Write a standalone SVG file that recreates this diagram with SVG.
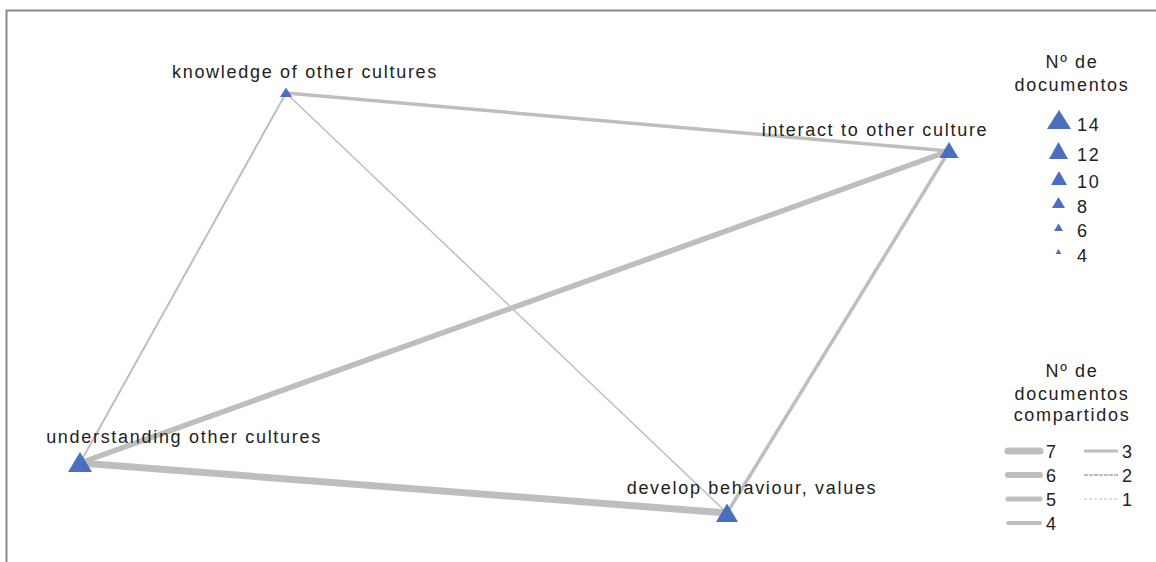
<svg xmlns="http://www.w3.org/2000/svg" width="1156" height="562" viewBox="0 0 1156 562">
<style>
text{font-family:"Liberation Sans",Arial,sans-serif;font-size:18px;letter-spacing:1.7px;fill:#222}
.e{stroke:#bebebe;fill:none}
.l{stroke:#bebebe;fill:none;stroke-linecap:round}
.t{fill:#4a6fbf}
.m{text-anchor:middle}
</style>
<rect x="0" y="0" width="1156" height="562" fill="#fff"/>
<polyline points="6.5,562 6.5,10.5 1156,10.5" fill="none" stroke="#8a8a8a" stroke-width="2"/>
<g id="connectors">
<line class="e" x1="80" y1="463" x2="727" y2="513" stroke-width="7"/>
<line class="e" x1="80" y1="463" x2="949" y2="151" stroke-width="5.5"/>
<line class="e" x1="286" y1="93" x2="949" y2="151" stroke-width="3.5"/>
<line class="e" x1="949" y1="151" x2="727" y2="513" stroke-width="3.5"/>
<line class="e" x1="286" y1="93" x2="80" y2="463" stroke-width="2"/>
<line class="e" x1="286" y1="93" x2="727" y2="513" stroke-width="1.5"/>
</g>
<g id="node-knowledge">
<polygon class="t" points="286,87.5 280,97 292,97"/>
<text class="m" x="305" y="78">knowledge of other cultures</text>
</g>
<g id="node-interact">
<polygon class="t" points="949,142 939.5,158 958.5,158"/>
<text class="m" x="875" y="136">interact to other culture</text>
</g>
<g id="node-understanding">
<polygon class="t" points="80,452 68,472 92,472"/>
<text class="m" x="184" y="443">understanding other cultures</text>
</g>
<g id="node-develop">
<polygon class="t" points="727,503.5 716,522 738,522"/>
<text class="m" x="752" y="494">develop behaviour, values</text>
</g>
<g id="legend-nodes">
<text class="m" x="1072" y="68">Nº de</text>
<text class="m" x="1072" y="91">documentos</text>
<polygon class="t" points="1059,110 1047,129 1071,129"/><text x="1077" y="131">14</text>
<polygon class="t" points="1058.5,142 1049,159 1068,159"/><text x="1077" y="161">12</text>
<polygon class="t" points="1059,171 1051,185 1067,185"/><text x="1077" y="188">10</text>
<polygon class="t" points="1058.5,197 1052,208 1065,208"/><text x="1077" y="213">8</text>
<polygon class="t" points="1058.5,223.5 1054,231 1063,231"/><text x="1077" y="237">6</text>
<polygon class="t" points="1058.5,249 1055.5,254 1061.5,254"/><text x="1077" y="262">4</text>
</g>
<g id="legend-edges">
<text class="m" x="1072" y="377">Nº de</text>
<text class="m" x="1072" y="400">documentos</text>
<text class="m" x="1072" y="421">compartidos</text>
<line class="l" x1="1008" y1="451" x2="1040" y2="451" stroke-width="7"/><text x="1046" y="458">7</text>
<line class="l" x1="1008" y1="475" x2="1040" y2="475" stroke-width="6"/><text x="1046" y="482">6</text>
<line class="l" x1="1008" y1="499" x2="1040" y2="499" stroke-width="5"/><text x="1046" y="506">5</text>
<line class="l" x1="1008" y1="523" x2="1040" y2="523" stroke-width="4"/><text x="1046" y="530">4</text>
<line class="l" x1="1085" y1="451" x2="1117" y2="451" stroke-width="3"/><text x="1122" y="458">3</text>
<line class="e" x1="1084" y1="475" x2="1118" y2="475" stroke-width="2" stroke-dasharray="4 1"/><text x="1122" y="482">2</text>
<line class="e" x1="1084" y1="499" x2="1118" y2="499" stroke-width="1" stroke-dasharray="3 2"/><text x="1122" y="506">1</text>
</g>
</svg>
